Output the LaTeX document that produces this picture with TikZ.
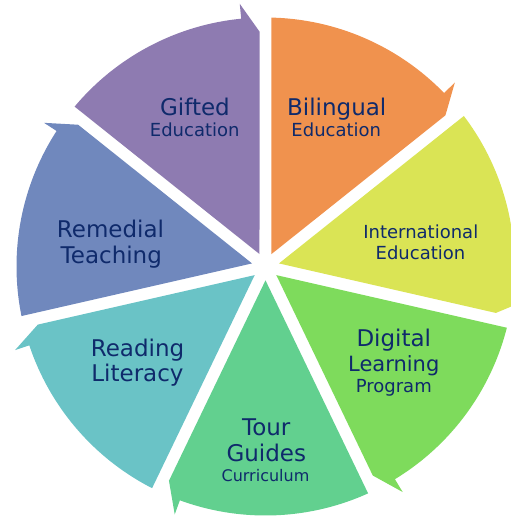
\documentclass[tikz,border=0pt]{standalone}
\usepackage{fontspec}
\setmainfont{DejaVu Sans}
\definecolor{corange}{HTML}{F0924E}
\definecolor{cyellow}{HTML}{DAE455}
\definecolor{cgreen}{HTML}{7EDB5C}
\definecolor{ctour}{HTML}{62D08F}
\definecolor{cteal}{HTML}{6AC3C6}
\definecolor{cblue}{HTML}{7088BD}
\definecolor{cpurple}{HTML}{8E7BB1}
\definecolor{navy}{HTML}{0F2A6B}
\tikzset{
  lbl/.style={text=navy, inner sep=0pt, anchor=base},
  fbig/.style={lbl, font=\fontsize{23}{23}\selectfont},
  fmidl/.style={lbl, font=\fontsize{21}{21}\selectfont},
  fmid/.style={lbl, font=\fontsize{18}{18}\selectfont},
  fsmall/.style={lbl, font=\fontsize{16}{16}\selectfont},
}
\begin{document}
\begin{tikzpicture}[x=1pt,y=1pt]
\useasboundingbox (-265.5,-253.5) rectangle (245.5,266.5);
\foreach \A/\col in {90/corange, 38.5714/cyellow, -12.8571/cgreen, -64.2857/ctour, -115.7143/cteal, -167.1429/cblue, 141.4286/cpurple}{
  \pgfmathsetmacro\B{\A-51.4286}
  \pgfmathsetmacro\M{(\A+\B)/2}
  \pgfmathsetmacro\S{\A-1.38}
  \pgfmathsetmacro\E{\B+5.6}
  \pgfmathsetmacro\T{\B+1.46}
  \fill[\col] (\M:13.83pt) -- (\S:249pt) arc[start angle=\S, end angle=\E, radius=249pt]
    -- (\E:264pt) -- (\T:235pt) -- cycle;
}
\node[fbig] (gift1) at (-70.5,151.5) {Gifted};
\node[fmid] (gift2) at (-70.8,130.5) {Education};
\node[fbig] (bil1) at (71.2,151.5) {Bilingual};
\node[fmid] (bil2) at (70.8,130.5) {Education};
\node[fmid] (int1) at (155.3,28.2) {International};
\node[fmid] (int2) at (155,7.2) {Education};
\node[fbig] (rem1) at (-155,29.5) {Remedial};
\node[fbig] (rem2) at (-154.2,3.2) {Teaching};
\node[fbig] (dig1) at (128.3,-80.2) {Digital};
\node[fmidl] (dig2) at (128.3,-104.5) {Learning};
\node[fmid] (dig3) at (128.3,-126.2) {Program};
\node[fbig] (tour1) at (0.8,-168.5) {Tour};
\node[fbig] (tour2) at (0.8,-194.5) {Guides};
\node[fsmall] (tour3) at (0,-214.5) {Curriculum};
\node[fbig] (read1) at (-128,-89.5) {Reading};
\node[fbig] (read2) at (-128,-115.2) {Literacy};
\end{tikzpicture}
\end{document}
